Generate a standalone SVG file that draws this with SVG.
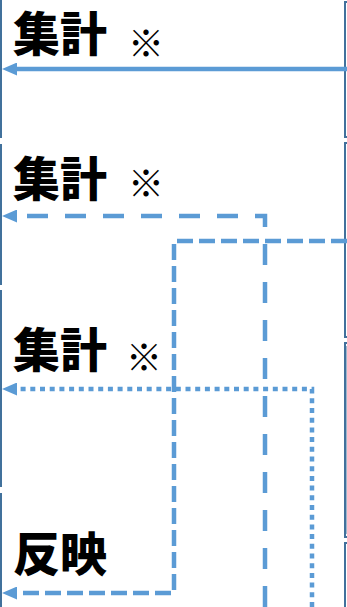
<svg xmlns="http://www.w3.org/2000/svg" width="347" height="607" viewBox="0 0 347 607">
<defs>
<style>
.box{fill:none;stroke:#41719c;stroke-width:2}
.con{fill:none;stroke:#5b9bd5;stroke-width:4.5}
.dash{stroke-dasharray:16 6}
.ldash{stroke-dasharray:21 17}
.dot{stroke-dasharray:5 4.7}
.lbl{font-family:"Noto Sans CJK JP","Noto Sans",sans-serif;font-weight:900;font-size:47px;fill:#000}
.mark{font-family:"Noto Sans CJK JP","Noto Sans",sans-serif;font-weight:normal;font-size:36px;fill:#000}
</style>
<marker id="ah" markerUnits="userSpaceOnUse" viewBox="0 0 15 13" refX="0" refY="6.5" markerWidth="15" markerHeight="13" orient="auto">
<path d="M0,0 L15,6.5 L0,13 z" fill="#5b9bd5"/>
</marker>
</defs>
<g id="left-boxes">
<g id="lbox1"><rect class="box" x="-30" y="-10" width="31" height="147"/></g>
<g id="lbox2"><rect class="box" x="-30" y="145" width="31" height="139"/></g>
<g id="lbox3"><rect class="box" x="-30" y="291" width="31" height="195"/></g>
<g id="lbox4"><rect class="box" x="-30" y="494" width="31" height="130"/></g>
</g>
<g id="right-boxes">
<g id="rbox1"><rect class="box" x="345" y="2" width="30" height="135"/></g>
<g id="rbox2"><rect class="box" x="345" y="143" width="30" height="194"/></g>
<g id="rbox3"><rect class="box" x="345" y="343" width="30" height="194"/><line class="box" x1="347.5" y1="346" x2="347.5" y2="534" stroke-width="1"/></g>
<g id="rbox4"><rect class="box" x="345" y="543" width="30" height="80"/></g>
</g>
<g id="labels">
<g id="label1"><text class="lbl" x="13" y="51">集計</text><text class="mark" x="128" y="57">※</text></g>
<g id="label2"><text class="lbl" x="13" y="196">集計</text><text class="mark" x="128" y="197">※</text></g>
<g id="label3"><text class="lbl" x="13" y="367">集計</text><text class="mark" x="126" y="371">※</text></g>
<g id="label4"><text class="lbl" x="13" y="571">反映</text></g>
</g>
<g id="connectors">
<path class="con" d="M347,69 H17" marker-end="url(#ah)"/>
<path class="con ldash" d="M265,607 V216 H17" marker-end="url(#ah)"/>
<path class="con dash" d="M347,241 H174 V593 H17" marker-end="url(#ah)"/>
<path class="con dot" d="M312,607 V389 H17" marker-end="url(#ah)"/>
</g>
</svg>
